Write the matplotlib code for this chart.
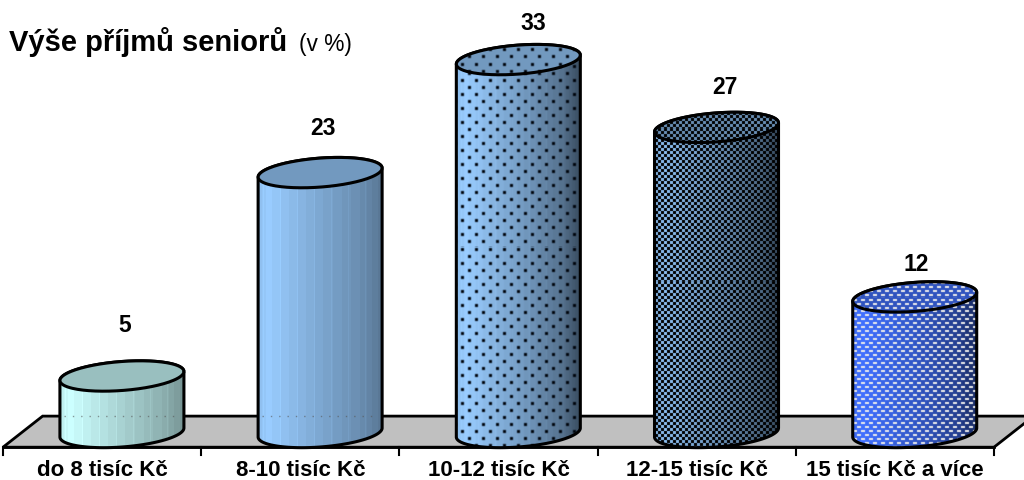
import numpy as np
import matplotlib
matplotlib.use('Agg')
import matplotlib.pyplot as plt
from matplotlib.patches import Polygon, PathPatch
from matplotlib.path import Path

plt.rcParams['font.family'] = ['Liberation Sans', 'DejaVu Sans']

# Data
categories = ['do 8 tisíc Kč', '8-10 tisíc Kč', '10-12 tisíc Kč', '12-15 tisíc Kč', '15 tisíc Kč a více']
values = [5, 23, 33, 27, 12]
side_colors = ['#CCFFFF', '#99CCFF', '#99CCFF', '#8CBFF2', '#3F6FFF']
patterns = ['none', 'none', 'dots', 'checker', 'dashes']
# label shift from the top of each cylinder, in pixels
label_dx = [3, 3, 15, 8, 1]
label_dy = [52, 45, 37, 41, 33]

# Scales: one category = 198.2 px, one percent = 11.3 px
W, H = 1024, 481
PX_X = 198.2
PX_Y = 11.3
X0, Y0 = 3, 433.5

fig = plt.figure(figsize=(W / 100, H / 100), dpi=100)
ax = fig.add_axes([0, 0, 1, 1])
ax.set_xlim(-X0 / PX_X, (W - X0) / PX_X)
ax.set_ylim(-(H - Y0) / PX_Y, Y0 / PX_Y)
ax.axis('off')

# Cylinder shape, in data units
half_w = 62 / PX_X
tilt = 4.5 / PX_Y
half_h = 14.5 / PX_Y
shift = 0.6


def ellipse(cx, cy, t):
    return cx + half_w * np.cos(t), cy + tilt * np.cos(t) + half_h * np.sin(t)


def soften(img, k=0.2):
    # small box blur, the original bitmap is slightly smeared
    out = img.copy()
    for axis in (0, 1):
        out = k * np.roll(out, 1, axis) + (1 - 2 * k) * out + k * np.roll(out, -1, axis)
    return out


def texture(kind, width, height, base, x_off, y_off, shade=True):
    u = (np.arange(width) + 0.5) / width
    if kind == 'none':
        f = np.interp(u, [0, 0.08, 0.5, 0.85, 1], [0.93, 1.0, 0.82, 0.68, 0.58])
    else:
        f = np.interp(u, [0, 0.08, 0.5, 0.85, 1], [0.93, 1.0, 0.78, 0.56, 0.38])
    # banded shading like the original gradient
    f = np.round(f * 34) / 34
    f = f + 0.035 * (np.arange(width) % 17 == 5) if shade else np.full(width, 0.75)
    rgb = np.array(matplotlib.colors.to_rgb(base))
    img = np.clip(np.ones((height, width, 3)) * f[None, :, None] * rgb, 0, 1)
    jj, ii = np.meshgrid(np.arange(width) + x_off, np.arange(height) + y_off)
    if kind == 'dots':
        a = (jj % 14 < 3) & (ii % 14 < 3)
        b = ((jj + 7) % 14 < 3) & ((ii + 7) % 14 < 3)
        img[a | b] = (0.0, 0.02, 0.05)
        img = soften(img)
    elif kind == 'checker':
        img[(jj // 3 + ii // 3) % 2 == 0] = (0.0, 0.0, 0.0)
        img = soften(img, 0.08)
    elif kind == 'dashes':
        a = (jj % 8 < 4) & (ii % 8 < 2)
        b = ((jj + 4) % 8 < 4) & ((ii + 4) % 8 < 2)
        img[a | b] = (0.92, 0.92, 0.92)
        img = soften(img, 0.12)
    return img


# Floor
floor = Polygon([(0, -1.3), (5, -1.3), (5.2, 1.45), (0.2, 1.45)], closed=True,
                facecolor='#C0C0C0', edgecolor='black', lw=2, zorder=1)
ax.add_patch(floor)

# Category axis line, ticks and labels
ax.plot([0, 5], [-1.3, -1.3], color='black', lw=2, zorder=2)
for i in range(6):
    ax.plot([i, i], [-1.3, -1.95], color='black', lw=1.5, zorder=2)
for i, cat in enumerate(categories):
    ax.text(i + 0.5, -3.76, cat, ha='center', va='baseline', fontsize=16, fontweight='bold')

t_front = np.linspace(np.pi, 2 * np.pi, 80)
t_back = np.linspace(0, np.pi, 80)
t_all = np.linspace(0, 2 * np.pi, 160)

for i, val in enumerate(values):
    cx = i + shift
    # side: lower half of the base, then upper half of the top
    # (y grows upward, so sin < 0 is the near edge)
    bx, by = ellipse(cx, 0, t_front)
    tx, ty = ellipse(cx, val, t_back)
    side = np.column_stack([np.r_[bx, tx], np.r_[by, ty]])
    side_path = Path(np.vstack([side, side[:1]]), closed=True)

    y_low, y_high = side[:, 1].min(), side[:, 1].max()
    x_low, x_high = cx - half_w, cx + half_w
    w_px = int(round((x_high - x_low) * PX_X))
    h_px = int(round((y_high - y_low) * PX_Y))
    img = texture(patterns[i], w_px, h_px, side_colors[i], i, 0)
    im = ax.imshow(img, extent=(x_low, x_high, y_low, y_high), aspect='auto',
                   interpolation='nearest', zorder=3)
    clip = PathPatch(side_path, transform=ax.transData, facecolor='none', edgecolor='none')
    ax.add_patch(clip)
    im.set_clip_path(clip)

    # faint trace of the floor's back edge behind the cylinder
    if patterns[i] == 'none':
        ax.plot([x_low + 0.02, x_high - 0.02], [1.45, 1.45], color='#555555', lw=1,
                ls=(0, (1, 5)), alpha=0.6, zorder=4)

    # outline of the side
    ax.add_patch(PathPatch(side_path, facecolor='none', edgecolor='black', lw=2.2, zorder=5))

    # top face
    ex, ey = ellipse(cx, val, t_all)
    top_path = Path(np.column_stack([ex, ey]), closed=False)
    top_h = int(round((ey.max() - ey.min()) * PX_Y))
    top_img = texture(patterns[i], w_px, top_h, side_colors[i], i, 3, shade=False)
    top_im = ax.imshow(top_img, extent=(x_low, x_high, ey.min(), ey.max()), aspect='auto',
                       interpolation='nearest', zorder=6)
    top_clip = PathPatch(top_path, transform=ax.transData, facecolor='none', edgecolor='none')
    ax.add_patch(top_clip)
    top_im.set_clip_path(top_clip)
    ax.add_patch(PathPatch(top_path, facecolor='none', edgecolor='black', lw=2.2, zorder=7))

    ax.annotate(str(val), xy=(cx, val), xytext=(label_dx[i] * 0.72, label_dy[i] * 0.72),
                textcoords='offset points', ha='center', va='center',
                fontsize=16.5, fontweight='bold', zorder=8)

ax.set_xlim(-X0 / PX_X, (W - X0) / PX_X)
ax.set_ylim(-(H - Y0) / PX_Y, Y0 / PX_Y)

# Title, two weights on one baseline
fig.text(9 / W, 1 - 51 / H, 'Výše příjmů seniorů', fontsize=21, fontweight='bold',
         ha='left', va='baseline')
fig.text(299 / W, 1 - 51 / H, '(v %)', fontsize=16.4, ha='left', va='baseline')

fig.savefig('out.png', dpi=100)
